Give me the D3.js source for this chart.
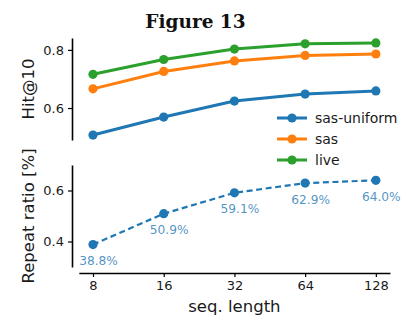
<!DOCTYPE html>
<html>
<head>
<meta charset="utf-8">
<script src="https://cdn.jsdelivr.net/npm/d3@7"></script>
<style>
  html, body { margin: 0; padding: 0; background: #fff; }
  svg { display: block; }
  text { font-family: "DejaVu Sans", sans-serif; }
</style>
</head>
<body>
<svg id="chart" width="410" height="322"></svg>
<script>
// Sequence lengths on the shared x axis
const seqLengths = [8, 16, 32, 64, 128];
const xTickLabels = ["8", "16", "32", "64", "128"];

// Hit@10 per method
const seriesNames = ["sas-uniform", "sas", "live"];
const sasUniform = [0.507, 0.569, 0.624, 0.648, 0.659];
const sas = [0.666, 0.726, 0.762, 0.781, 0.786];
const live = [0.716, 0.767, 0.803, 0.821, 0.824];

// Share of repeated items
const repeatRatio = [0.388, 0.509, 0.591, 0.629, 0.640];
const repeatLabels = ["38.8%", "50.9%", "59.1%", "62.9%", "64.0%"];

const topTicks = [0.6, 0.8];
const bottomTicks = [0.4, 0.6];

const colors = ["#1f77b4", "#ff7f0e", "#2ca02c"];
const series = [sasUniform, sas, live];

const svg = d3.select("#chart");

// Log2 x positions with a small margin on each side
const x = d3.scaleLog().base(2)
  .domain([Math.pow(2, 2.8), Math.pow(2, 7.2)])
  .range([78.85, 390]);

const yTop = d3.scaleLinear().domain([0.49, 0.841]).range([140, 38]);
const yBot = d3.scaleLinear().domain([0.3, 0.7]).range([267, 165]);

const spineX = 72;
const spineY = 273;

// Title
svg.append("text")
  .attr("x", 195.5).attr("y", 28)
  .attr("text-anchor", "middle")
  .style("font-family", "'DejaVu Serif', serif")
  .style("font-weight", "bold")
  .style("font-size", "18.5px")
  .attr("fill", "#111")
  .text("Figure 13");

// Left axes (offset spines)
function leftAxis(scale, ticks, fmt) {
  const g = svg.append("g").attr("transform", `translate(${spineX},0)`)
    .call(d3.axisLeft(scale).tickValues(ticks).tickFormat(fmt)
      .tickSizeInner(4).tickSizeOuter(0).tickPadding(4));
  g.select(".domain").attr("stroke", "#000").attr("stroke-width", 1.6);
  g.selectAll(".tick line").attr("stroke", "#000").attr("stroke-width", 1.2);
  g.selectAll(".tick text").style("font-size", "13px")
    .style("font-family", "'DejaVu Sans', sans-serif").attr("fill", "#1a1a1a");
  return g;
}
leftAxis(yTop, topTicks, d3.format(".1f"));
leftAxis(yBot, bottomTicks, d3.format(".1f"));

// Bottom axis
const gx = svg.append("g").attr("transform", `translate(0,${spineY})`)
  .call(d3.axisBottom(x).tickValues(seqLengths)
    .tickFormat((d, i) => xTickLabels[i])
    .tickSizeInner(4).tickSizeOuter(0).tickPadding(4));
gx.select(".domain").attr("stroke", "#000").attr("stroke-width", 1.6);
gx.selectAll(".tick line").attr("stroke", "#000").attr("stroke-width", 1.2);
gx.selectAll(".tick text").style("font-size", "13px")
  .style("font-family", "'DejaVu Sans', sans-serif").attr("fill", "#1a1a1a");

// Axis titles
function yLabel(text, cy) {
  svg.append("text")
    .attr("transform", `translate(34,${cy}) rotate(-90)`)
    .attr("text-anchor", "middle")
    .style("font-size", "16.5px").attr("fill", "#1a1a1a")
    .text(text);
}
yLabel("Hit@10", (38 + 140) / 2);
yLabel("Repeat ratio [%]", (165 + 267) / 2);

svg.append("text")
  .attr("x", (78.85 + 390) / 2).attr("y", 312)
  .attr("text-anchor", "middle")
  .style("font-size", "16.5px").attr("fill", "#1a1a1a")
  .text("seq. length");

// Hit@10 lines
const lineTop = d3.line().x((d, i) => x(seqLengths[i])).y(d => yTop(d));
series.forEach((vals, s) => {
  svg.append("path").datum(vals)
    .attr("d", lineTop)
    .attr("fill", "none")
    .attr("stroke", colors[s]).attr("stroke-width", 3)
    .attr("stroke-linejoin", "round");
  svg.selectAll(null).data(vals).enter().append("circle")
    .attr("cx", (d, i) => x(seqLengths[i]))
    .attr("cy", d => yTop(d))
    .attr("r", 4.6)
    .attr("fill", colors[s]);
});

// Legend
const legendRows = [118, 139, 160];
seriesNames.forEach((name, s) => {
  const ly = legendRows[s];
  svg.append("line")
    .attr("x1", 277).attr("x2", 307).attr("y1", ly).attr("y2", ly)
    .attr("stroke", colors[s]).attr("stroke-width", 3);
  svg.append("circle").attr("cx", 292).attr("cy", ly).attr("r", 4.6)
    .attr("fill", colors[s]);
  svg.append("text").attr("x", 315).attr("y", ly + 5)
    .style("font-size", "14px").attr("fill", "#1a1a1a")
    .text(name);
});

// Repeat ratio line
const lineBot = d3.line().x((d, i) => x(seqLengths[i])).y(d => yBot(d));
svg.append("path").datum(repeatRatio)
  .attr("d", lineBot)
  .attr("fill", "none")
  .attr("stroke", colors[0]).attr("stroke-width", 2.2)
  .attr("stroke-dasharray", "6,3.6");
svg.selectAll(null).data(repeatRatio).enter().append("circle")
  .attr("cx", (d, i) => x(seqLengths[i]))
  .attr("cy", d => yBot(d))
  .attr("r", 4.6)
  .attr("fill", colors[0]);

// Value annotations under each point
svg.selectAll(null).data(repeatRatio).enter().append("text")
  .attr("x", (d, i) => x(seqLengths[i]) + 5.5)
  .attr("y", d => yBot(d) + 20.5)
  .attr("text-anchor", "middle")
  .style("font-size", "12.2px")
  .attr("fill", colors[0]).attr("fill-opacity", 0.8)
  .text((d, i) => repeatLabels[i]);
</script>
</body>
</html>
